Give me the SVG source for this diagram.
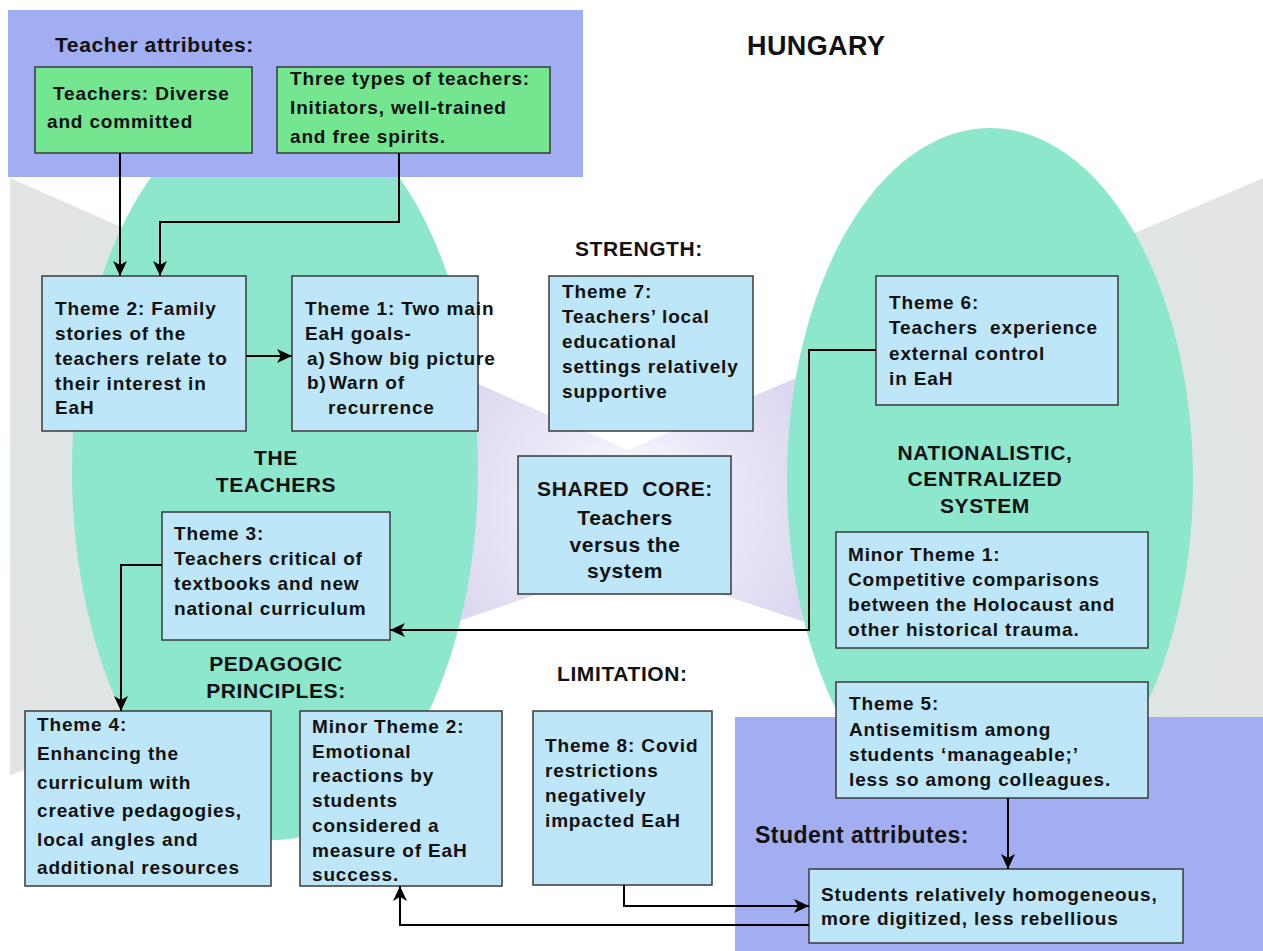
<svg xmlns="http://www.w3.org/2000/svg" width="1263" height="951" viewBox="0 0 1263 951">
  <style>
    .box { fill: #bee6f9; stroke: #3a3a3a; stroke-width: 1.5; }
    .gbox { fill: #73e68f; stroke: #3a3a3a; stroke-width: 1.5; }
    .band { fill: #a1aef1; }
    .oval { fill: #8ce7cc; }
    .t { font-family: "Liberation Sans", Arial, sans-serif; font-weight: bold; font-size: 19px; letter-spacing: 0.85px; fill: #111; }
    .lbl { font-family: "Liberation Sans", Arial, sans-serif; font-weight: bold; font-size: 21px; letter-spacing: 0.6px; fill: #111; }
    .mid { text-anchor: middle; }
    .con { fill: none; stroke: #000; stroke-width: 2; }
  </style>
  <defs>
    <radialGradient id="coreGlow" gradientUnits="userSpaceOnUse" cx="628" cy="506" r="640">
      <stop offset="0" stop-color="#ffffff"/>
      <stop offset="0.12" stop-color="#eeecf9"/>
      <stop offset="0.3" stop-color="#dcd8f1"/>
      <stop offset="0.45" stop-color="#dddcf0"/>
      <stop offset="0.7" stop-color="#d9e6e1"/>
      <stop offset="1" stop-color="#e3e5e4"/>
    </radialGradient>
    <marker id="arr" markerUnits="userSpaceOnUse" markerWidth="16" markerHeight="14" refX="15" refY="7" orient="auto">
      <path d="M0,0 L15,7 L0,14 L4,7 z" fill="#000"/>
    </marker>
  </defs>

  <rect width="1263" height="951" fill="#ffffff"/>

  <!-- converging background -->
  <polygon points="10,178 628,450 1263,178 1263,775 628,563 10,775" fill="url(#coreGlow)"/>

  <!-- the two domains -->
  <ellipse class="oval" cx="275" cy="470" rx="203" ry="370"/>
  <ellipse class="oval" cx="990" cy="480" rx="203" ry="352"/>

  <!-- attribute bands -->
  <rect class="band" x="8" y="10" width="575" height="167"/>
  <rect class="band" x="735" y="717" width="528" height="234"/>

  <!-- labels -->
  <text class="lbl" x="55" y="52">Teacher attributes:</text>
  <text class="lbl" x="747" y="55" style="font-size:27px;letter-spacing:0.4px">HUNGARY</text>
  <text class="lbl" x="575" y="256">STRENGTH:</text>
  <text class="lbl mid" x="276" y="465">THE</text>
  <text class="lbl mid" x="276" y="492">TEACHERS</text>
  <text class="lbl mid" x="276" y="671">PEDAGOGIC</text>
  <text class="lbl mid" x="276" y="698">PRINCIPLES:</text>
  <text class="lbl mid" x="985" y="460">NATIONALISTIC,</text>
  <text class="lbl mid" x="985" y="486">CENTRALIZED</text>
  <text class="lbl mid" x="985" y="513">SYSTEM</text>
  <text class="lbl" x="557" y="681">LIMITATION:</text>
  <text class="lbl" x="755" y="843" style="font-size:23px;letter-spacing:0.5px">Student attributes:</text>

  <!-- nodes -->
  <g id="teachers-diverse">
    <rect class="gbox" x="35" y="67" width="217" height="86"/>
    <text class="t" x="53" y="100">Teachers: Diverse</text>
    <text class="t" x="47" y="128">and committed</text>
  </g>
  <g id="teacher-types">
    <rect class="gbox" x="277" y="67" width="273" height="86"/>
    <text class="t" x="290" y="85">Three types of teachers:</text>
    <text class="t" x="290" y="114">Initiators, well-trained</text>
    <text class="t" x="290" y="143">and free spirits.</text>
  </g>
  <g id="theme2">
    <rect class="box" x="42" y="276" width="204" height="155"/>
    <text class="t" x="55" y="315">Theme 2: Family</text>
    <text class="t" x="55" y="340">stories of the</text>
    <text class="t" x="55" y="365">teachers relate to</text>
    <text class="t" x="55" y="390">their interest in</text>
    <text class="t" x="55" y="414">EaH</text>
  </g>
  <g id="theme1">
    <rect class="box" x="292" y="276" width="186" height="155"/>
    <text class="t" x="305" y="315">Theme 1: Two main</text>
    <text class="t" x="305" y="340">EaH goals-</text>
    <text class="t" x="307" y="365">a)</text>
    <text class="t" x="329" y="365">Show big picture</text>
    <text class="t" x="307" y="389">b)</text>
    <text class="t" x="329" y="389">Warn of</text>
    <text class="t" x="328" y="414">recurrence</text>
  </g>
  <g id="theme7">
    <rect class="box" x="549" y="276" width="204" height="155"/>
    <text class="t" x="562" y="298">Theme 7:</text>
    <text class="t" x="562" y="323">Teachers’ local</text>
    <text class="t" x="562" y="348">educational</text>
    <text class="t" x="562" y="373">settings relatively</text>
    <text class="t" x="562" y="398">supportive</text>
  </g>
  <g id="theme6">
    <rect class="box" x="876" y="276" width="242" height="129"/>
    <text class="t" x="889" y="309">Theme 6:</text>
    <text class="t" x="889" y="334" style="white-space:pre">Teachers  experience</text>
    <text class="t" x="889" y="360">external control</text>
    <text class="t" x="889" y="385">in EaH</text>
  </g>
  <g id="shared-core">
    <rect class="box" x="518" y="456" width="213" height="138"/>
    <text class="lbl mid" x="625" y="496" style="white-space:pre">SHARED  CORE:</text>
    <text class="lbl mid" x="625" y="525">Teachers</text>
    <text class="lbl mid" x="625" y="552">versus the</text>
    <text class="lbl mid" x="625" y="578">system</text>
  </g>
  <g id="theme3">
    <rect class="box" x="162" y="512" width="228" height="128"/>
    <text class="t" x="174" y="540">Theme 3:</text>
    <text class="t" x="174" y="565">Teachers critical of</text>
    <text class="t" x="174" y="590">textbooks and new</text>
    <text class="t" x="174" y="615">national curriculum</text>
  </g>
  <g id="minor-theme1">
    <rect class="box" x="836" y="532" width="312" height="116"/>
    <text class="t" x="848" y="561">Minor Theme 1:</text>
    <text class="t" x="848" y="586">Competitive comparisons</text>
    <text class="t" x="848" y="611">between the Holocaust and</text>
    <text class="t" x="848" y="636">other historical trauma.</text>
  </g>
  <g id="theme5">
    <rect class="box" x="836" y="682" width="312" height="116"/>
    <text class="t" x="849" y="710">Theme 5:</text>
    <text class="t" x="849" y="736">Antisemitism among</text>
    <text class="t" x="849" y="761">students ‘manageable;’</text>
    <text class="t" x="849" y="786">less so among colleagues.</text>
  </g>
  <g id="theme4">
    <rect class="box" x="25" y="711" width="246" height="175"/>
    <text class="t" x="37" y="731">Theme 4:</text>
    <text class="t" x="37" y="760">Enhancing the</text>
    <text class="t" x="37" y="789">curriculum with</text>
    <text class="t" x="37" y="817">creative pedagogies,</text>
    <text class="t" x="37" y="846">local angles and</text>
    <text class="t" x="37" y="874">additional resources</text>
  </g>
  <g id="minor-theme2">
    <rect class="box" x="300" y="711" width="202" height="175"/>
    <text class="t" x="312" y="733">Minor Theme 2:</text>
    <text class="t" x="312" y="758">Emotional</text>
    <text class="t" x="312" y="782">reactions by</text>
    <text class="t" x="312" y="807">students</text>
    <text class="t" x="312" y="832">considered a</text>
    <text class="t" x="312" y="857">measure of EaH</text>
    <text class="t" x="312" y="881">success.</text>
  </g>
  <g id="theme8">
    <rect class="box" x="533" y="711" width="179" height="174"/>
    <text class="t" x="545" y="752">Theme 8: Covid</text>
    <text class="t" x="545" y="777">restrictions</text>
    <text class="t" x="545" y="802">negatively</text>
    <text class="t" x="545" y="827">impacted EaH</text>
  </g>
  <g id="students">
    <rect class="box" x="809" y="869" width="374" height="74"/>
    <text class="t" x="821" y="901">Students relatively homogeneous,</text>
    <text class="t" x="821" y="925">more digitized, less rebellious</text>
  </g>

  <!-- connectors -->
  <g id="connectors">
    <path class="con" d="M120,153 V276" marker-end="url(#arr)"/>
    <path class="con" d="M399,153 V222 H160 V276" marker-end="url(#arr)"/>
    <path class="con" d="M246,356 H292" marker-end="url(#arr)"/>
    <path class="con" d="M876,350 H809 V630 H390" marker-end="url(#arr)"/>
    <path class="con" d="M162,565 H121 V711" marker-end="url(#arr)"/>
    <path class="con" d="M1008,798 V869" marker-end="url(#arr)"/>
    <path class="con" d="M624,885 V906 H809" marker-end="url(#arr)"/>
    <path class="con" d="M809,925 H400 V886" marker-end="url(#arr)"/>
  </g>
</svg>
